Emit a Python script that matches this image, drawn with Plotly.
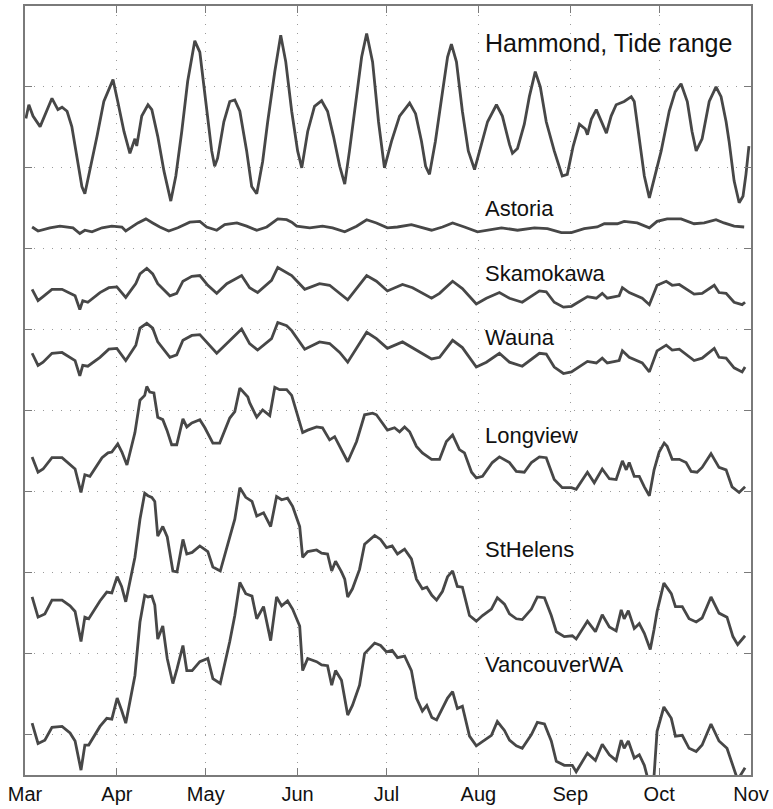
import pandas as pd
import plotly.graph_objects as go

# Days since 1 March and stacked (offset) values for each station
hammond_day = [0.3, 1.3, 2.7, 5.1, 9.1, 11.1, 12.5, 14.2, 15.8, 17.9, 19.2, 20.2, 21.9, 24.3, 26.6, 29.7,
               31.3, 33.4, 35.4, 37.1, 37.7, 39.4, 41.5, 42.8, 44.8, 46.9, 49.2, 50.9, 52.9, 54.9, 57.3,
               59.0, 61.0, 63.0, 64.0, 65.0, 67.1, 69.1, 70.8, 72.5, 74.8, 76.5, 78.2, 80.2, 81.9, 84.3,
               86.3, 88.0, 90.0, 92.0, 93.4, 95.4, 97.7, 100.1, 102.1, 104.1, 106.2, 107.9, 109.5, 111.6,
               113.6, 115.3, 117.3, 119.3, 121.3, 123.7, 126.4, 129.8, 131.8, 133.8, 135.2, 136.5, 138.5,
               140.9, 142.6, 143.9, 145.6, 147.6, 149.6, 151.7, 153.4, 156.1, 159.1, 161.1, 163.5, 164.5,
               166.2, 168.5, 170.2, 172.2, 173.9, 175.9, 178.6, 181.3, 183.0, 185.0, 187.1, 189.1, 189.8,
               191.1, 192.8, 194.5, 196.2, 197.8, 199.5, 202.2, 204.6, 205.6, 207.3, 209.0, 210.7, 212.3,
               214.7, 217.4, 219.4, 221.4, 223.5, 225.1, 226.5, 228.5, 230.9, 233.2, 234.9, 236.6, 237.6,
               239.3, 241.0, 242.3, 243.3, 244.3]
hammond_val = [8.11, 8.28, 8.14, 8.01, 8.36, 8.22, 8.25, 8.20, 8.01, 7.52, 7.27, 7.18, 7.46, 7.89, 8.32, 8.59,
               8.32, 7.95, 7.68, 7.86, 7.77, 8.14, 8.28, 8.22, 7.89, 7.46, 7.09, 7.40, 7.95, 8.57, 9.07,
               8.93, 8.32, 7.71, 7.52, 7.62, 8.07, 8.32, 8.34, 8.20, 7.71, 7.27, 7.18, 7.58, 8.07, 8.69,
               9.14, 8.81, 8.20, 7.71, 7.50, 7.95, 8.26, 8.33, 8.20, 7.89, 7.52, 7.30, 7.71, 8.32,
               8.87, 9.16, 8.81, 8.07, 7.50, 7.83, 8.14, 8.30, 8.17, 7.83, 7.52, 7.42, 7.83,
               8.44, 8.87, 9.03, 8.81, 8.20, 7.71, 7.48, 7.71, 8.07, 8.28, 8.14, 7.79, 7.68,
               7.74, 8.04, 8.38, 8.69, 8.50, 8.07, 7.71, 7.40, 7.42, 7.77, 8.04, 7.98, 7.91,
               8.10, 8.22, 8.07, 7.93, 8.14, 8.28, 8.32, 8.38, 8.32, 7.83, 7.40, 7.13, 7.37,
               7.71, 8.20, 8.44, 8.54, 8.32, 7.95, 7.71, 7.86, 8.32, 8.50, 8.38, 8.07, 7.83,
               7.34, 7.07, 7.15, 7.42, 7.77]

astoria_day = [2.4, 4.4, 8.4, 11.8, 16.2, 18.5, 20.2, 22.6, 26.0, 29.3, 32.7, 34.0, 38.1, 40.8, 43.1, 45.5,
               48.5, 51.6, 55.6, 59.0, 61.3, 64.7, 67.4, 71.5, 74.8, 78.2, 81.6, 85.3, 88.3, 90.0, 91.7,
               96.1, 100.4, 103.8, 107.9, 111.9, 115.3, 118.6, 122.3, 125.7, 130.4, 137.2, 140.9, 144.3,
               148.3, 152.7, 160.8, 166.2, 171.9, 176.3, 181.0, 184.4, 188.7, 193.1, 195.5, 199.9, 202.2,
               206.6, 210.7, 213.3, 216.7, 221.4, 225.8, 229.2, 233.2, 235.9, 239.3, 242.7]
astoria_val = [6.77, 6.72, 6.76, 6.78, 6.76, 6.69, 6.73, 6.71, 6.76, 6.78, 6.77, 6.72, 6.82, 6.87, 6.82, 6.77,
               6.72, 6.76, 6.83, 6.84, 6.77, 6.73, 6.80, 6.82, 6.78, 6.73, 6.77, 6.87, 6.86, 6.83, 6.78,
               6.76, 6.78, 6.76, 6.71, 6.78, 6.86, 6.82, 6.76, 6.77, 6.80, 6.73, 6.77, 6.82,
               6.77, 6.71, 6.76, 6.73, 6.76, 6.75, 6.70, 6.70, 6.75, 6.77, 6.81, 6.81, 6.84,
               6.82, 6.76, 6.84, 6.87, 6.87, 6.81, 6.82, 6.86, 6.82, 6.78, 6.77]

smooth_day = [2.4, 4.4, 6.1, 9.1, 12.5, 15.2, 16.9, 18.5, 19.5, 21.2, 25.3, 28.3, 31.0, 34.0, 37.4, 38.8,
              41.1, 43.1, 44.8, 48.9, 51.2, 53.3, 56.3, 59.0, 61.7, 64.7, 68.1, 73.1, 75.8, 78.5, 83.2,
              85.3, 88.3, 90.0, 94.4, 99.4, 102.8, 106.2, 108.9, 115.3, 118.6, 122.3, 127.4, 130.8, 137.2,
              139.9, 144.3, 147.6, 152.3, 155.7, 160.1, 163.5, 167.8, 173.6, 175.9, 178.6, 181.7, 184.4,
              189.8, 192.8, 194.8, 196.5, 200.5, 201.6, 203.9, 208.3, 210.7, 213.3, 216.4, 218.4, 220.8,
              225.8, 228.5, 232.6, 234.2, 236.6, 239.3, 242.0, 243.0]
skamokawa_val = [6.00, 5.86, 5.91, 6.00, 6.00, 5.95, 5.92, 5.75, 5.86, 5.84, 5.96, 6.02, 6.03, 5.90, 6.07, 6.19,
                 6.26, 6.19, 6.07, 5.92, 5.95, 6.10, 6.16, 6.17, 6.05, 5.95, 6.07, 6.17, 6.02, 5.96, 6.11,
                 6.27, 6.21, 6.17, 6.00, 6.07, 6.05, 5.95, 5.87, 6.17, 6.10, 5.98, 6.06, 6.02, 5.89,
                 5.95, 6.10, 6.01, 5.82, 5.89, 5.96, 5.89, 5.84, 5.98, 5.97, 5.84, 5.78, 5.79,
                 5.91, 5.89, 5.95, 5.89, 5.92, 6.02, 5.96, 5.89, 5.81, 6.05, 6.10, 6.05, 6.06,
                 5.94, 5.95, 6.05, 5.96, 5.95, 5.84, 5.81, 5.84]
wauna_val = [5.21, 5.06, 5.10, 5.21, 5.22, 5.16, 5.12, 4.93, 5.06, 5.05, 5.16, 5.26, 5.27, 5.12, 5.31, 5.52,
             5.58, 5.52, 5.35, 5.16, 5.19, 5.37, 5.43, 5.44, 5.33, 5.21, 5.33, 5.51, 5.33, 5.25, 5.39,
             5.59, 5.55, 5.49, 5.26, 5.35, 5.33, 5.22, 5.10, 5.47, 5.39, 5.27, 5.35, 5.28, 5.14,
             5.16, 5.37, 5.28, 5.04, 5.10, 5.21, 5.10, 5.05, 5.21, 5.20, 5.04, 4.96, 4.98,
             5.11, 5.09, 5.15, 5.09, 5.12, 5.24, 5.16, 5.09, 4.98, 5.24, 5.31, 5.25, 5.26,
             5.12, 5.15, 5.27, 5.16, 5.15, 5.03, 4.98, 5.04]

longview_day = [2.4, 4.4, 6.1, 9.1, 12.5, 15.2, 16.9, 18.9, 20.2, 21.9, 26.0, 28.0, 29.3, 31.3, 32.7, 34.4,
                37.1, 38.8, 40.4, 41.1, 42.1, 43.5, 44.8, 46.5, 47.9, 49.5, 51.2, 53.3, 54.6, 56.3, 59.0,
                60.7, 63.4, 65.7, 69.1, 70.8, 72.5, 75.2, 75.8, 78.2, 80.2, 82.6, 84.3, 85.9, 88.3, 90.0,
                91.7, 93.7, 95.4, 98.4, 100.4, 102.8, 104.5, 106.2, 107.9, 108.9, 111.9, 114.6, 117.3,
                118.6, 122.3, 124.7, 126.4, 128.1, 129.8, 132.1, 134.1, 137.2, 139.9, 142.2, 144.3, 146.6,
                148.3, 150.7, 152.3, 154.4, 157.7, 160.1, 163.5, 165.8, 168.5, 170.9, 173.6, 175.9, 178.6,
                181.3, 184.4, 186.0, 189.8, 192.1, 194.8, 197.2, 199.5, 201.6, 202.9, 203.9, 205.6, 207.3,
                209.0, 210.7, 212.3, 214.0, 215.7, 216.7, 218.4, 220.8, 223.1, 224.8, 226.8, 228.5, 231.5,
                234.2, 236.6, 238.6, 241.0, 243.0]
longview_val = [3.93, 3.74, 3.78, 3.92, 3.92, 3.83, 3.78, 3.49, 3.71, 3.69, 3.92, 3.98, 3.99, 4.09, 3.99, 3.83,
                4.23, 4.63, 4.69, 4.80, 4.73, 4.72, 4.42, 4.39, 4.26, 4.08, 4.08, 4.40, 4.30, 4.35, 4.39,
                4.29, 4.10, 4.10, 4.41, 4.49, 4.78, 4.67, 4.60, 4.42, 4.51, 4.44, 4.79, 4.76, 4.76, 4.69,
                4.47, 4.23, 4.26, 4.30, 4.29, 4.14, 4.18, 4.06, 3.93, 3.87, 4.12, 4.45, 4.47,
                4.45, 4.26, 4.29, 4.24, 4.30, 4.24, 4.06, 3.98, 3.90, 3.90, 4.12, 4.20, 4.02,
                3.98, 3.74, 3.67, 3.69, 3.86, 3.93, 3.86, 3.75, 3.74, 3.86, 3.93, 3.92, 3.65,
                3.55, 3.55, 3.53, 3.74, 3.61, 3.78, 3.66, 3.65, 3.88, 3.77, 3.86, 3.69, 3.69,
                3.56, 3.45, 3.77, 3.99, 4.10, 4.06, 3.90, 3.90, 3.86, 3.75, 3.74, 3.80, 3.97,
                3.80, 3.77, 3.56, 3.49, 3.56]

upriver_day = [2.4, 4.4, 6.7, 9.1, 12.5, 15.2, 16.9, 18.9, 20.2, 21.5, 25.3, 27.6, 29.3, 31.1, 32.6, 34.0,
               37.1, 38.8, 40.4, 41.5, 42.8, 43.8, 44.8, 46.5, 48.0, 49.9, 51.3, 53.3, 54.6, 56.4, 59.0,
               61.7, 63.4, 65.9, 69.1, 70.8, 72.5, 74.5, 76.6, 78.2, 80.5, 82.9, 84.9, 86.6, 88.6, 90.3,
               92.7, 93.7, 95.4, 98.4, 100.1, 102.1, 103.5, 104.8, 106.8, 107.9, 108.9, 110.5, 112.9,
               114.6, 118.0, 120.0, 122.0, 123.9, 125.7, 128.1, 130.4, 132.1, 134.1, 135.6, 137.3, 138.9,
               140.9, 142.6, 144.3, 145.9, 147.6, 150.0, 152.3, 154.4, 157.4, 159.4, 161.8, 163.5, 165.8,
               167.8, 170.9, 172.9, 175.3, 177.6, 179.3, 182.0, 184.7, 186.0, 189.8, 192.5, 194.8, 197.2,
               199.5, 201.2, 202.2, 203.6, 205.6, 207.3, 209.0, 211.0, 212.3, 213.3, 215.6, 218.1, 219.5,
               221.8, 224.1, 226.5, 228.5, 231.5, 234.2, 236.9, 238.9, 240.5, 243.0]
sthelens_val = [2.20, 1.95, 1.99, 2.16, 2.16, 2.09, 2.02, 1.65, 1.95, 1.93, 2.15, 2.26, 2.25, 2.45, 2.33, 2.14,
                2.69, 3.16, 3.48, 3.45, 3.43, 3.38, 2.95, 3.07, 2.94, 2.52, 2.51, 2.91, 2.73, 2.75, 2.83,
                2.76, 2.57, 2.52, 2.94, 3.16, 3.55, 3.43, 3.38, 3.20, 3.24, 3.07, 3.44, 3.40, 3.42, 3.32,
                3.07, 2.69, 2.76, 2.78, 2.74, 2.73, 2.52, 2.64, 2.51, 2.42, 2.20, 2.30, 2.54,
                2.85, 2.96, 2.91, 2.81, 2.83, 2.73, 2.79, 2.67, 2.42, 2.30, 2.32, 2.22, 2.16,
                2.27, 2.45, 2.52, 2.33, 2.32, 1.97, 1.90, 1.97, 2.05, 2.19, 2.11, 1.99, 1.93,
                1.92, 2.05, 2.20, 2.19, 1.97, 1.77, 1.71, 1.72, 1.68, 1.90, 1.77, 1.98, 1.83,
                1.78, 2.04, 1.93, 2.03, 1.81, 1.87, 1.75, 1.55, 1.80, 2.02, 2.37, 2.24, 2.08,
                2.08, 1.93, 1.89, 1.94, 2.20, 2.00, 1.95, 1.71, 1.61, 1.72]
vancouver_val = [0.64, 0.39, 0.43, 0.59, 0.60, 0.52, 0.42, 0.06, 0.37, 0.37, 0.60, 0.70, 0.69, 0.95, 0.80, 0.64,
                 1.23, 1.89, 2.22, 2.20, 2.21, 2.10, 1.68, 1.84, 1.44, 1.13, 1.31, 1.60, 1.29, 1.29, 1.40,
                 1.44, 1.19, 1.13, 1.65, 1.97, 2.38, 2.24, 2.21, 1.93, 2.08, 1.66, 2.20, 2.09, 2.15, 2.05,
                 1.84, 1.29, 1.44, 1.40, 1.36, 1.35, 1.11, 1.29, 1.17, 0.95, 0.74, 0.86, 1.11,
                 1.50, 1.63, 1.60, 1.52, 1.54, 1.45, 1.47, 1.29, 0.95, 0.79, 0.86, 0.71, 0.68,
                 0.82, 0.95, 1.03, 0.82, 0.85, 0.48, 0.36, 0.41, 0.49, 0.66, 0.55, 0.43, 0.36,
                 0.33, 0.50, 0.65, 0.63, 0.42, 0.17, 0.12, 0.12, 0.04, 0.27, 0.18, 0.38, 0.25,
                 0.18, 0.43, 0.33, 0.42, 0.21, 0.25, 0.12, -0.16, 0.00, 0.54, 0.84, 0.70, 0.48,
                 0.49, 0.33, 0.29, 0.37, 0.63, 0.42, 0.33, 0.12, -0.06, 0.09]

station_labels = ["Hammond, Tide range", "Astoria", "Skamokawa", "Wauna",
                  "Longview", "StHelens", "VancouverWA"]
label_levels = [9.04, 7.00, 6.19, 5.41, 4.19, 2.79, 1.37]
label_sizes = [25, 22, 22, 22, 22, 22, 22]
label_day = 154.5

month_labels = ["Mar", "Apr", "May", "Jun", "Jul", "Aug", "Sep", "Oct", "Nov"]
y_ticks = [0.5, 1.5, 2.5, 3.5, 4.5, 5.5, 6.5, 7.5, 8.5]

start = pd.Timestamp("2010-03-01")


def to_dates(days):
    return start + pd.to_timedelta(days, unit="D")


series = [
    (hammond_day, hammond_val),
    (astoria_day, astoria_val),
    (smooth_day, skamokawa_val),
    (smooth_day, wauna_val),
    (longview_day, longview_val),
    (upriver_day, sthelens_val),
    (upriver_day, vancouver_val),
]

LINE = "#474747"
FRAME = "#7a7a7a"
FONT = "Liberation Sans, Arial, Helvetica, sans-serif"

fig = go.Figure()
for (d, v), name in zip(series, station_labels):
    fig.add_trace(go.Scatter(x=to_dates(d), y=v, mode="lines", name=name,
                             line=dict(color=LINE, width=2.8), showlegend=False))

for text, lvl, size in zip(station_labels, label_levels, label_sizes):
    fig.add_annotation(x=to_dates([label_day])[0], y=lvl, text=text, showarrow=False,
                       xanchor="left", yanchor="middle",
                       font=dict(family=FONT, size=size, color="#111111"))

month_ticks = [start + pd.DateOffset(months=i) for i in range(len(month_labels))]

fig.update_xaxes(range=[month_ticks[0], month_ticks[-1]], tickvals=month_ticks, ticktext=month_labels,
                 showgrid=True, gridcolor="#9a9a9a", griddash="1px,8px", gridwidth=1,
                 showline=True, linecolor=FRAME, linewidth=1.5, mirror="ticks",
                 ticks="inside", ticklen=7, tickcolor=FRAME, zeroline=False,
                 tickfont=dict(family=FONT, size=20, color="#111111"))
fig.update_yaxes(range=[0, 9.5], tickvals=y_ticks, showticklabels=False,
                 showgrid=True, gridcolor="#9a9a9a", griddash="1px,8px", gridwidth=1,
                 showline=True, linecolor=FRAME, linewidth=1.5, mirror="ticks",
                 ticks="inside", ticklen=7, tickcolor=FRAME, zeroline=False)

fig.update_layout(width=773, height=809, margin=dict(l=25, r=21, t=4, b=32),
                  plot_bgcolor="white", paper_bgcolor="white")

fig.write_html("out.html")
